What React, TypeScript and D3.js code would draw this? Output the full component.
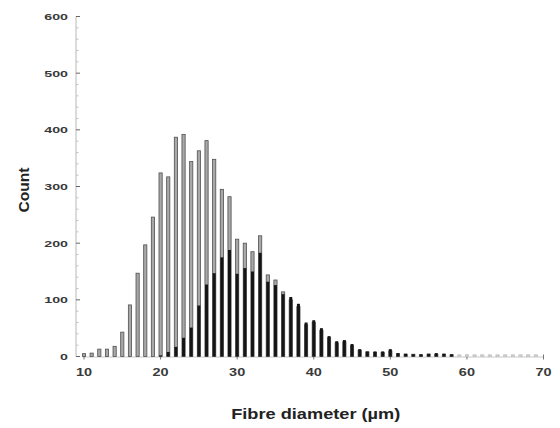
import React, { useEffect, useRef } from 'react';
import * as d3 from 'd3';

// bin centres, fibre diameter (um)
const bins: number[] = d3.range(10, 70);

// lighter (outlined) series, counts per bin starting at 10 um
const greyCounts: number[] = [
  5, 6, 13, 13, 18, 43, 91, 147, 197, 246,
  324, 317, 387, 392, 344, 363, 381, 348, 295, 282,
  207, 200, 185, 213, 144, 135, 114, 100, 88, 56,
  60, 46, 33, 24, 26, 19, 11, 8, 7, 7,
  10, 5, 4, 4, 3, 4, 4, 4, 3, 3,
  3, 3, 3, 3, 3, 3, 3, 3, 3, 3,
];

// dark series, counts per bin starting at 10 um
const blackCounts: number[] = [
  0, 0, 0, 0, 0, 0, 0, 0, 0, 0,
  2, 8, 17, 33, 51, 90, 127, 147, 175, 188,
  146, 156, 150, 183, 132, 126, 110, 105, 93, 60,
  64, 50, 36, 27, 29, 22, 13, 9, 9, 9,
  13, 6, 5, 4, 4, 5, 6, 5, 4, 0,
  0, 0, 0, 0, 0, 0, 0, 0, 0, 0,
];

const yTicks: number[] = [0, 100, 200, 300, 400, 500, 600];
const xTicks: number[] = [10, 20, 30, 40, 50, 60, 70];

const FONT = '"Liberation Sans", Arial, sans-serif';

export default function App() {
  const ref = useRef<SVGSVGElement>(null);

  useEffect(() => {
    const svg = d3.select(ref.current);
    svg.selectAll('*').remove();

    const x = d3.scaleLinear().domain([10, 70]).range([84, 543.5]);
    const y = d3.scaleLinear().domain([0, 600]).range([356.5, 16.5]);

    // y axis line + ticks
    svg.append('line')
      .attr('x1', 76).attr('x2', 76)
      .attr('y1', y(600)).attr('y2', y(0))
      .attr('stroke', '#b8b8b8').attr('stroke-width', 1);

    svg.append('g')
      .selectAll('line')
      .data(d3.range(0, 601, 20))
      .join('line')
        .attr('x1', 76)
        .attr('x2', (d) => (d % 100 === 0 ? 80 : 78.5))
        .attr('y1', (d) => y(d)).attr('y2', (d) => y(d))
        .attr('stroke', (d) => (d % 100 === 0 ? '#666' : '#c4c4c4'))
        .attr('stroke-width', 1);

    svg.append('g')
      .selectAll('text')
      .data(yTicks)
      .join('text')
        .attr('transform', (d) => `translate(68, ${y(d) + 3.5}) scale(1.5, 1)`)
        .attr('text-anchor', 'end')
        .attr('font-family', FONT)
        .attr('font-weight', 'bold')
        .attr('font-size', 9.5)
        .attr('fill', '#3a3a3a')
        .text((d) => d);

    // x axis line + ticks
    svg.append('line')
      .attr('x1', x(10) - 1).attr('x2', x(70))
      .attr('y1', y(0) + 0.5).attr('y2', y(0) + 0.5)
      .attr('stroke', '#c8c8c8').attr('stroke-width', 1);

    svg.append('g')
      .selectAll('line')
      .data(xTicks)
      .join('line')
        .attr('x1', (d) => x(d)).attr('x2', (d) => x(d))
        .attr('y1', y(0) - 2).attr('y2', y(0) + 3)
        .attr('stroke', '#777')
        .attr('stroke-width', 1);

    svg.append('g')
      .selectAll('text')
      .data(xTicks)
      .join('text')
        .attr('transform', (d) => `translate(${x(d)}, ${y(0) + 19}) scale(1.45, 1)`)
        .attr('text-anchor', 'middle')
        .attr('font-family', FONT)
        .attr('font-weight', 'bold')
        .attr('font-size', 10)
        .attr('fill', '#3a3a3a')
        .text((d) => d);

    // grey series (behind)
    svg.append('g')
      .selectAll('rect')
      .data(bins.map((b, i) => ({ b, v: greyCounts[i] })).filter((d) => d.v > 0))
      .join('rect')
        .attr('x', (d) => x(d.b) - 1.6)
        .attr('width', 3.2)
        .attr('y', (d) => y(d.v))
        .attr('height', (d) => y(0) - y(d.v))
        .attr('fill', (d) => (d.b > 58 ? '#d2d2d2' : '#a8a8a8'))
        .attr('stroke', (d) => (d.b > 58 ? '#c0c0c0' : '#505050'))
        .attr('stroke-width', 0.8);

    // black series (front)
    svg.append('g')
      .selectAll('rect')
      .data(bins.map((b, i) => ({ b, v: blackCounts[i] })).filter((d) => d.v > 0))
      .join('rect')
        .attr('x', (d) => x(d.b) - 1.5)
        .attr('width', 3)
        .attr('y', (d) => y(d.v))
        .attr('height', (d) => y(0) - y(d.v))
        .attr('fill', '#151515');

    // axis titles
    svg.append('text')
      .attr('transform', `translate(${(x(10) + x(70)) / 2 + 2}, 419) scale(1.3, 1)`)
      .attr('text-anchor', 'middle')
      .attr('font-family', FONT)
      .attr('font-weight', 'bold')
      .attr('font-size', 14)
      .attr('fill', '#222')
      .text('Fibre diameter (\u00b5m)');

    svg.append('text')
      .attr('transform', 'translate(29, 190) rotate(-90) scale(1.2, 1.15)')
      .attr('text-anchor', 'middle')
      .attr('font-family', FONT)
      .attr('font-weight', 'bold')
      .attr('font-size', 13)
      .attr('fill', '#222')
      .text('Count');
  }, []);

  return (
    <svg
      ref={ref}
      width={560}
      height={428}
      style={{ position: 'absolute', left: 0, top: 0, background: '#fff' }}
    />
  );
}
